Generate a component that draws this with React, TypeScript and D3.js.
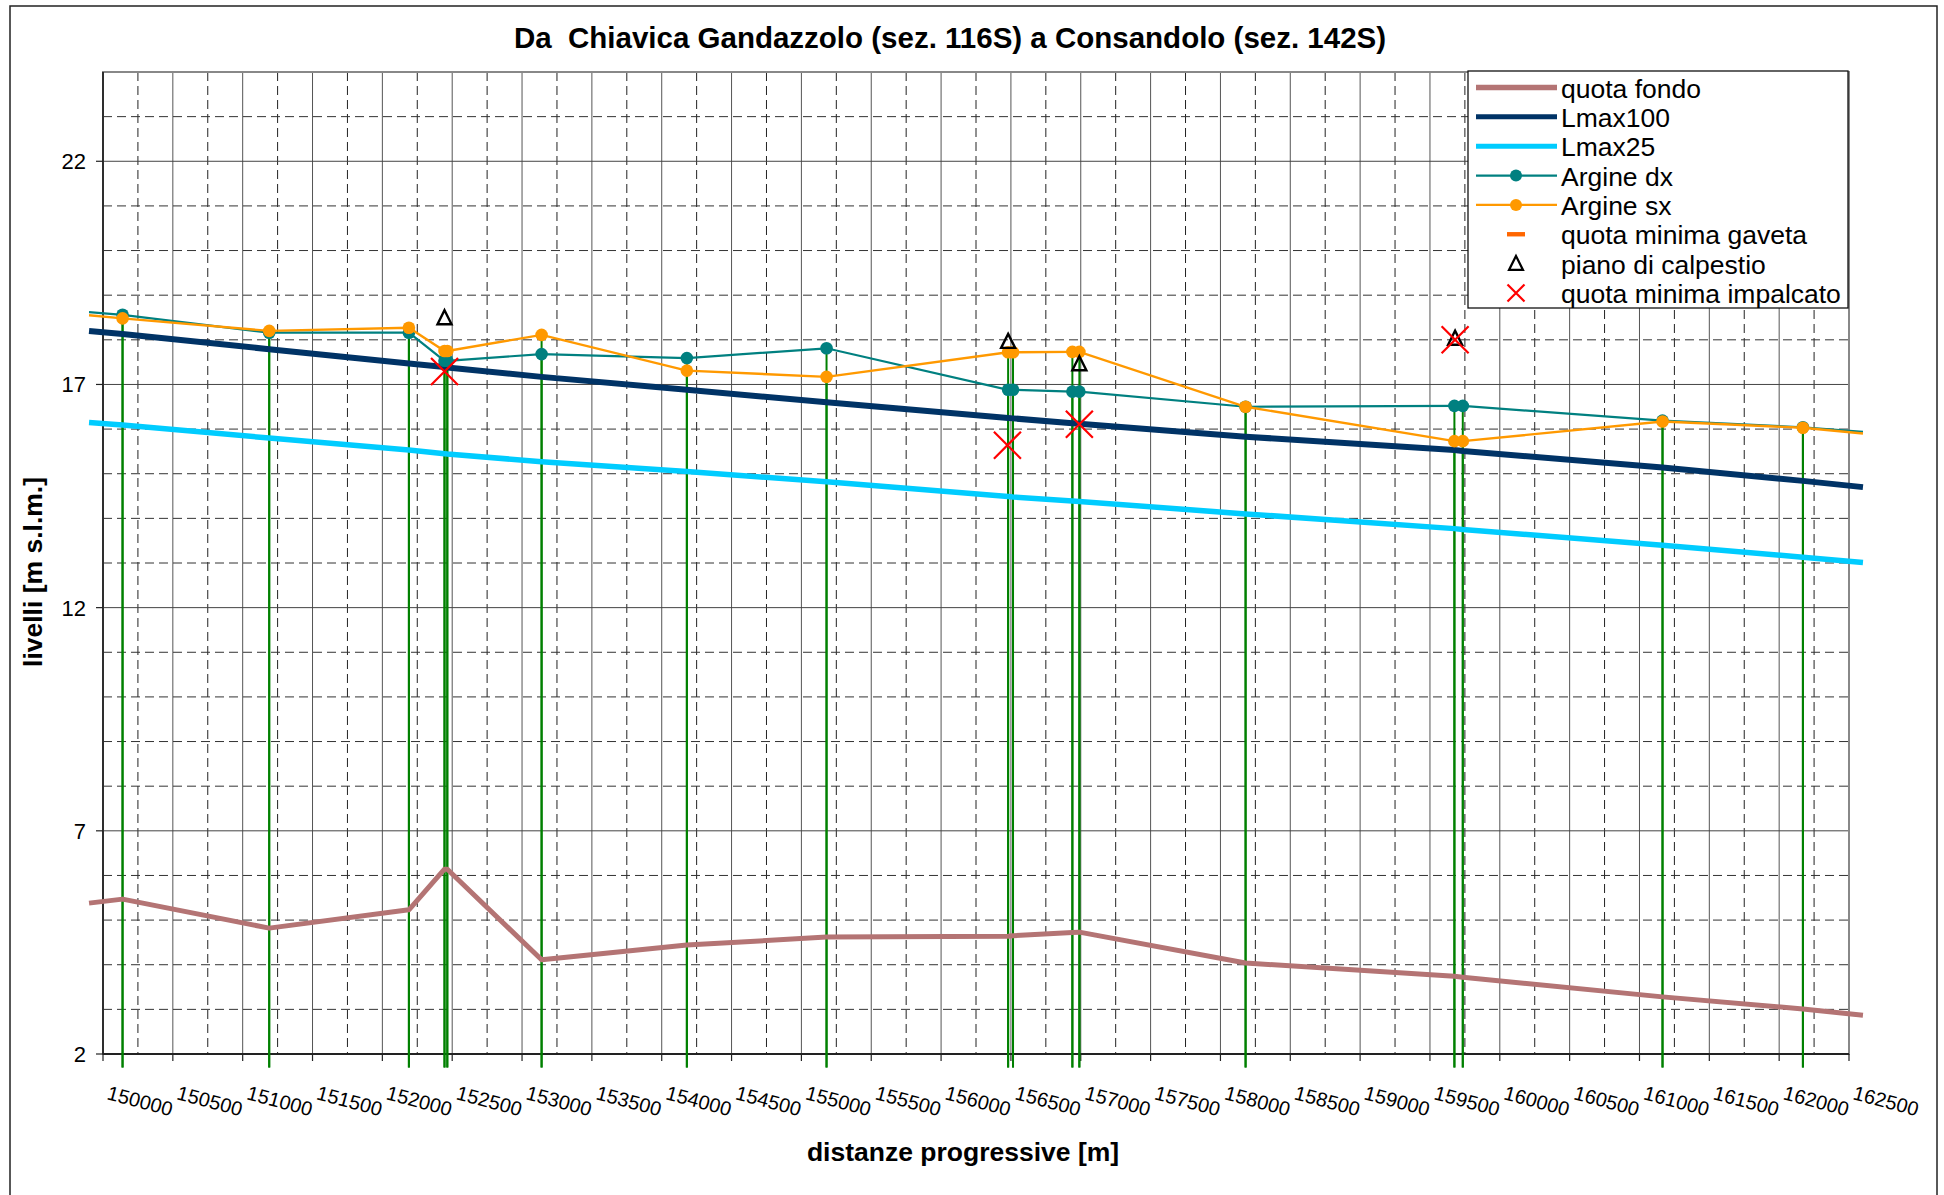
import React from "react";
import * as d3 from "d3";

// progressive distances of the sections [m]
const sections = [149900, 150140, 151190, 152190, 152445, 152465, 153140, 154180, 155180, 156480, 156515, 156940, 156990, 158180, 159675, 159735, 161165, 162170, 162600];

// levels [m s.l.m.]
const quotaFondo = [5.38, 5.47, 4.82, 5.23, 6.14, 6.14, 4.11, 4.44, 4.62, 4.64, 4.65, 4.72, 4.73, 4.04, 3.74, 3.72, 3.28, 3.01, 2.87];
const lmax100 = [18.2, 18.13, 17.79, 17.47, 17.39, 17.38, 17.17, 16.88, 16.6, 16.25, 16.24, 16.13, 16.12, 15.83, 15.53, 15.51, 15.14, 14.84, 14.7];
const lmax25 = [16.15, 16.09, 15.8, 15.53, 15.45, 15.44, 15.27, 15.05, 14.82, 14.49, 14.48, 14.39, 14.38, 14.1, 13.77, 13.75, 13.4, 13.13, 13.01];
const argineDx = [18.62, 18.56, 18.16, 18.16, 17.53, 17.53, 17.68, 17.59, 17.81, 16.88, 16.88, 16.84, 16.84, 16.5, 16.52, 16.52, 16.19, 16.04, 15.94];
const argineSx = [18.55, 18.48, 18.2, 18.27, 17.75, 17.75, 18.11, 17.31, 17.17, 17.72, 17.72, 17.73, 17.73, 16.5, 15.73, 15.73, 16.17, 16.03, 15.9];

// bridges
const calpestioX = [152445, 156480, 156990, 159680];
const calpestioY = [18.49, 17.96, 17.46, 18.03];
const impalcatoX = [152445, 156475, 156990, 159680];
const impalcatoY = [17.29, 15.64, 16.11, 18.0];

const xTickLabels = [150000, 150500, 151000, 151500, 152000, 152500, 153000, 153500, 154000, 154500, 155000, 155500, 156000, 156500, 157000, 157500, 158000, 158500, 159000, 159500, 160000, 160500, 161000, 161500, 162000, 162500];
const yTickLabels = [2, 7, 12, 17, 22];

const legendLabels = ["quota fondo", "Lmax100", "Lmax25", "Argine dx", "Argine sx", "quota minima gaveta", "piano di calpestio", "quota minima impalcato"];

const FONT = "'Liberation Sans', Arial, Helvetica, sans-serif";

export default function App() {
  const width = 1944;
  const height = 1195;
  const left = 103, right = 1849, top = 72, bottom = 1054;

  const x = d3.scaleLinear().domain([150000, 162500]).range([left, right]);
  const y = d3.scaleLinear().domain([2, 24]).range([bottom, top]);

  const line = (vals: number[]) =>
    d3.line<number>().x((_, i) => x(sections[i])).y((d) => y(d))(vals) || "";

  // markers and drop lines only inside the axis range
  const inside = (i: number) => sections[i] >= 150000 && sections[i] <= 162500;

  const vGrid = d3.range(150250, 162500, 250);
  const hGrid = d3.range(3, 24, 1);

  const tri = (cx: number, cy: number, s: number) =>
    `M${cx},${cy - s * 0.55} L${cx + s * 0.5},${cy + s * 0.45} L${cx - s * 0.5},${cy + s * 0.45} Z`;
  const cross = (cx: number, cy: number, s: number) =>
    `M${cx - s},${cy - s} L${cx + s},${cy + s} M${cx - s},${cy + s} L${cx + s},${cy - s}`;

  const legY = (i: number) => 87.5 + i * 29.35;
  const symX0 = 1476, symX1 = 1557, symC = 1516;

  return (
    <svg
      width={width}
      height={height}
      style={{ position: "absolute", left: 0, top: 0, background: "#fff" }}
      fontFamily={FONT}
    >
      <rect x={0} y={0} width={width} height={height} fill="#fff" />
      <rect x={10} y={6} width={1927} height={1200} fill="none" stroke="#222" strokeWidth={1.5} />

      {/* grid */}
      <g className="grid">
        {vGrid.map((v) => (
          <line
            key={"v" + v}
            x1={x(v)} x2={x(v)} y1={top} y2={bottom}
            stroke={v % 500 === 0 ? "#555" : "#222"}
            strokeWidth={1}
            strokeDasharray={v % 500 === 0 ? undefined : "9,5"}
          />
        ))}
        {hGrid.map((v) => (
          <line
            key={"h" + v}
            x1={left} x2={right} y1={y(v)} y2={y(v)}
            stroke={(v - 2) % 5 === 0 ? "#444" : "#333"}
            strokeWidth={1}
            strokeDasharray={(v - 2) % 5 === 0 ? undefined : "9,5"}
          />
        ))}
      </g>
      <rect x={left} y={top} width={right - left} height={bottom - top} fill="none" stroke="#888" strokeWidth={2} />
      <line x1={left} x2={left} y1={top} y2={bottom} stroke="#111" strokeWidth={1.5} />
      <line x1={left} x2={right} y1={bottom} y2={bottom} stroke="#222" strokeWidth={2} />

      {/* ticks */}
      {yTickLabels.map((v) => (
        <g key={"yt" + v}>
          <line x1={left - 7} x2={left} y1={y(v)} y2={y(v)} stroke="#222" strokeWidth={1.2} />
          <text x={86} y={y(v) + 8} textAnchor="end" fontSize={22} fill="#000">{v}</text>
        </g>
      ))}
      {xTickLabels.map((v) => (
        <g key={"xt" + v}>
          <line x1={x(v)} x2={x(v)} y1={bottom} y2={bottom + 7} stroke="#222" strokeWidth={1.2} />
          <text transform={`translate(${x(v) + 3},${1099}) rotate(15)`} fontSize={20} fill="#000">{v}</text>
        </g>
      ))}

      {/* drop lines (error bars) */}
      <g stroke="#008000" strokeWidth={2}>
        {sections.map((s, i) =>
          inside(i) ? (
            <g key={"eb" + i}>
              <line x1={x(s)} x2={x(s)} y1={y(argineDx[i])} y2={y(1.7)} />
              <line x1={x(s)} x2={x(s)} y1={y(argineSx[i])} y2={y(1.7)} />
            </g>
          ) : null
        )}
      </g>

      {/* series */}
      <path d={line(quotaFondo)} fill="none" stroke="#b47474" strokeWidth={5} strokeLinejoin="round" />
      <path d={line(lmax100)} fill="none" stroke="#003366" strokeWidth={6} />
      <path d={line(lmax25)} fill="none" stroke="#00ccff" strokeWidth={5.5} />
      <path d={line(argineDx)} fill="none" stroke="#008080" strokeWidth={2.2} />
      {sections.map((s, i) =>
        inside(i) ? <circle key={"dx" + i} cx={x(s)} cy={y(argineDx[i])} r={6.3} fill="#008080" /> : null
      )}
      <path d={line(argineSx)} fill="none" stroke="#ff9900" strokeWidth={2.4} />
      {sections.map((s, i) =>
        inside(i) ? <circle key={"sx" + i} cx={x(s)} cy={y(argineSx[i])} r={6.3} fill="#ff9900" /> : null
      )}
      {calpestioX.map((s, i) => (
        <path key={"tr" + i} d={tri(x(s), y(calpestioY[i]), 14)} fill="none" stroke="#000" strokeWidth={2.4} />
      ))}
      {impalcatoX.map((s, i) => (
        <path key={"cr" + i} d={cross(x(s), y(impalcatoY[i]), 13.5)} fill="none" stroke="#ff0000" strokeWidth={2.2} />
      ))}

      {/* titles */}
      <text x={950} y={48} textAnchor="middle" fontSize={29.5} fontWeight="bold" fill="#000" style={{ whiteSpace: "pre" }}>
        {"Da  Chiavica Gandazzolo (sez. 116S) a Consandolo (sez. 142S)"}
      </text>
      <text transform="translate(42,572) rotate(-90)" textAnchor="middle" fontSize={26.5} fontWeight="bold" fill="#000">
        livelli [m s.l.m.]
      </text>
      <text x={963} y={1161} textAnchor="middle" fontSize={26.5} fontWeight="bold" fill="#000">
        distanze progressive [m]
      </text>

      {/* legend */}
      <g className="legend">
        <rect x={1468} y={71} width={380} height={237} fill="#fff" stroke="#111" strokeWidth={1.3} />
        <line x1={symX0} x2={symX1} y1={legY(0)} y2={legY(0)} stroke="#b47474" strokeWidth={5.5} />
        <line x1={symX0} x2={symX1} y1={legY(1)} y2={legY(1)} stroke="#003366" strokeWidth={5} />
        <line x1={symX0} x2={symX1} y1={legY(2)} y2={legY(2)} stroke="#00ccff" strokeWidth={5} />
        <line x1={symX0} x2={symX1} y1={legY(3)} y2={legY(3)} stroke="#008080" strokeWidth={2.2} />
        <circle cx={symC} cy={legY(3)} r={6} fill="#008080" />
        <line x1={symX0} x2={symX1} y1={legY(4)} y2={legY(4)} stroke="#ff9900" strokeWidth={2.4} />
        <circle cx={symC} cy={legY(4)} r={6} fill="#ff9900" />
        <rect x={symC - 9} y={legY(5) - 2.2} width={18} height={4.4} fill="#ff6600" />
        <path d={tri(symC, legY(6), 14)} fill="none" stroke="#000" strokeWidth={2.2} />
        <path d={cross(symC, legY(7), 8.5)} fill="none" stroke="#ff0000" strokeWidth={2.2} />
        {legendLabels.map((t, i) => (
          <text key={t} x={1561} y={legY(i) + 10} fontSize={26.5} fill="#000">{t}</text>
        ))}
      </g>
    </svg>
  );
}
